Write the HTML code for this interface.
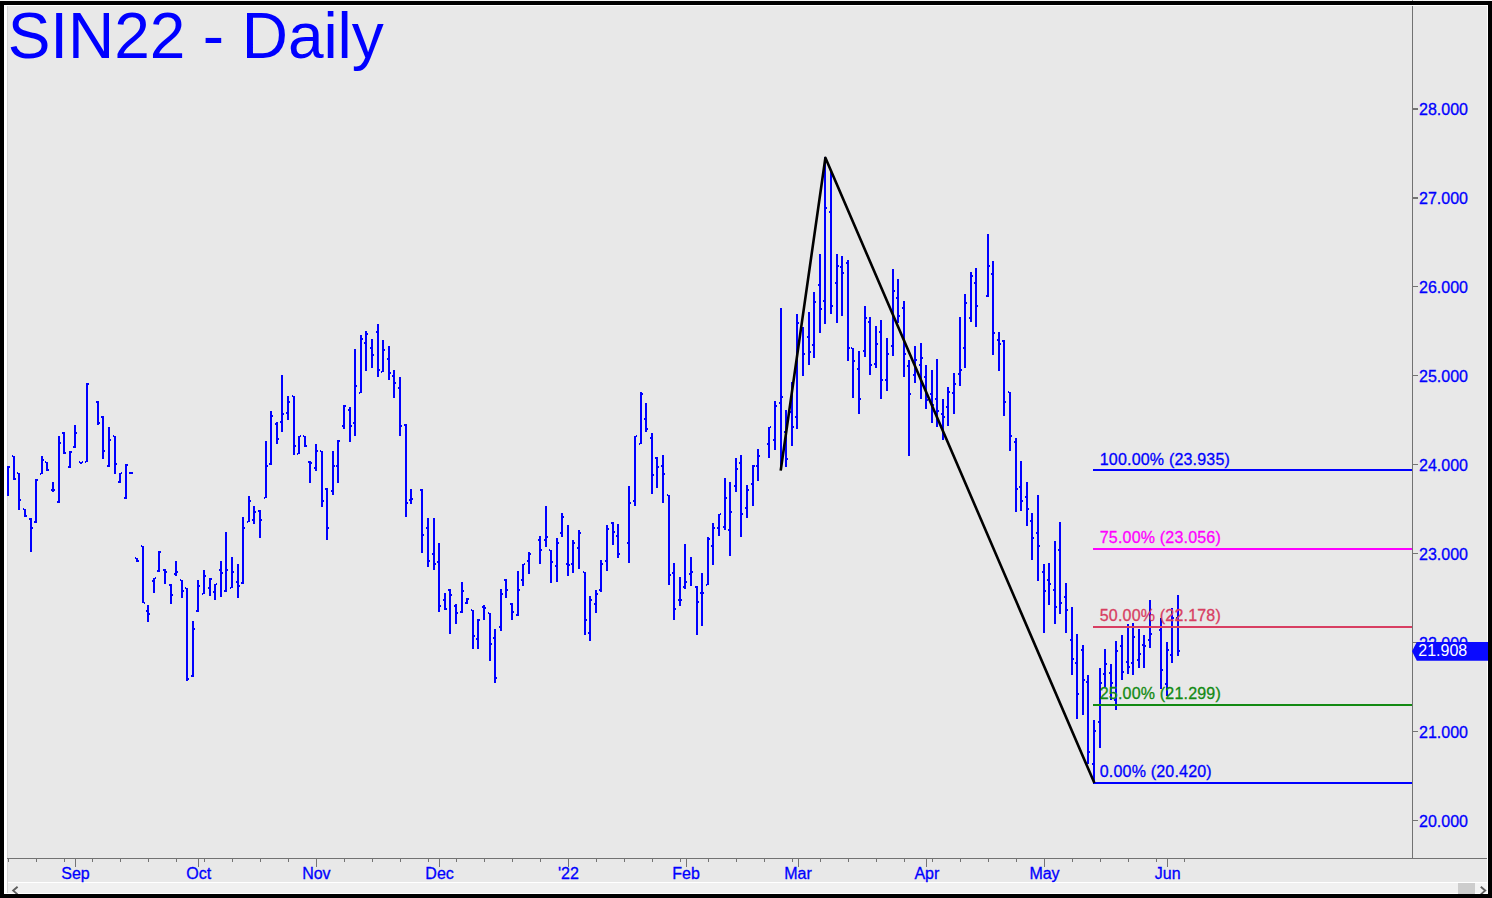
<!DOCTYPE html><html><head><meta charset="utf-8"><style>html,body{margin:0;padding:0;background:#fff;}svg{display:block}text{font-family:"Liberation Sans",sans-serif}</style></head><body>
<svg width="1492" height="898" viewBox="0 0 1492 898" shape-rendering="crispEdges">
<rect x="0" y="0" width="1492" height="898" fill="#000"/>
<rect x="0" y="0" width="1492" height="1" fill="#f4f4f4"/>
<rect x="4" y="5" width="1484" height="889" fill="#ffffff"/>
<rect x="7" y="6" width="1480" height="876" fill="#e8e8e8"/>
<rect x="1412" y="0" width="1" height="1" fill="#8a8a8a"/>
<rect x="7" y="882" width="1480" height="1" fill="#ffffff"/>
<rect x="7" y="883" width="1480" height="10" fill="#f0f0f0"/>
<rect x="1475" y="883" width="12" height="10" fill="#f3f3f3"/>
<rect x="1458" y="883" width="17" height="11" fill="#cdcdcd"/>
<path d="M17.6 886.8 L13.2 890.6 L17.6 894.4" stroke="#5e5e5e" stroke-width="1.9" fill="none" shape-rendering="geometricPrecision"/>
<path d="M1480.8 886.8 L1485.2 890.6 L1480.8 894.4" stroke="#5e5e5e" stroke-width="1.9" fill="none" shape-rendering="geometricPrecision"/>
<rect x="0" y="894" width="1492" height="4" fill="#000"/>
<rect x="7" y="6" width="1" height="887" fill="#d5d5d5"/>
<text x="7.7" y="58" font-size="64" fill="#0000ff" letter-spacing="-0.08">SIN22 - Daily</text>
<rect x="7" y="858" width="1480" height="1" fill="#727272"/>
<rect x="1412" y="6" width="1" height="852" fill="#727272"/>
<rect x="8" y="858" width="1" height="4" fill="#747474"/>
<rect x="36" y="858" width="1" height="4" fill="#747474"/>
<rect x="64" y="858" width="1" height="4" fill="#747474"/>
<rect x="75" y="858" width="1" height="9" fill="#747474"/>
<text x="75.50" y="879" font-size="16" fill="#0000ff" stroke="#0000ff" stroke-width="0.3" text-anchor="middle">Sep</text>
<rect x="92" y="858" width="1" height="4" fill="#747474"/>
<rect x="120" y="858" width="1" height="4" fill="#747474"/>
<rect x="148" y="858" width="1" height="4" fill="#747474"/>
<rect x="176" y="858" width="1" height="4" fill="#747474"/>
<rect x="198" y="858" width="1" height="9" fill="#747474"/>
<text x="198.73" y="879" font-size="16" fill="#0000ff" stroke="#0000ff" stroke-width="0.3" text-anchor="middle">Oct</text>
<rect x="204" y="858" width="1" height="4" fill="#747474"/>
<rect x="232" y="858" width="1" height="4" fill="#747474"/>
<rect x="260" y="858" width="1" height="4" fill="#747474"/>
<rect x="288" y="858" width="1" height="4" fill="#747474"/>
<rect x="316" y="858" width="1" height="9" fill="#747474"/>
<text x="316.36" y="879" font-size="16" fill="#0000ff" stroke="#0000ff" stroke-width="0.3" text-anchor="middle">Nov</text>
<rect x="344" y="858" width="1" height="4" fill="#747474"/>
<rect x="372" y="858" width="1" height="4" fill="#747474"/>
<rect x="400" y="858" width="1" height="4" fill="#747474"/>
<rect x="428" y="858" width="1" height="4" fill="#747474"/>
<rect x="439" y="858" width="1" height="9" fill="#747474"/>
<text x="439.58" y="879" font-size="16" fill="#0000ff" stroke="#0000ff" stroke-width="0.3" text-anchor="middle">Dec</text>
<rect x="456" y="858" width="1" height="4" fill="#747474"/>
<rect x="484" y="858" width="1" height="4" fill="#747474"/>
<rect x="512" y="858" width="1" height="4" fill="#747474"/>
<rect x="540" y="858" width="1" height="4" fill="#747474"/>
<rect x="568" y="858" width="1" height="9" fill="#747474"/>
<text x="568.41" y="879" font-size="16" fill="#0000ff" stroke="#0000ff" stroke-width="0.3" text-anchor="middle">'22</text>
<rect x="596" y="858" width="1" height="4" fill="#747474"/>
<rect x="624" y="858" width="1" height="4" fill="#747474"/>
<rect x="652" y="858" width="1" height="4" fill="#747474"/>
<rect x="680" y="858" width="1" height="4" fill="#747474"/>
<rect x="686" y="858" width="1" height="9" fill="#747474"/>
<text x="686.04" y="879" font-size="16" fill="#0000ff" stroke="#0000ff" stroke-width="0.3" text-anchor="middle">Feb</text>
<rect x="708" y="858" width="1" height="4" fill="#747474"/>
<rect x="736" y="858" width="1" height="4" fill="#747474"/>
<rect x="764" y="858" width="1" height="4" fill="#747474"/>
<rect x="792" y="858" width="1" height="4" fill="#747474"/>
<rect x="798" y="858" width="1" height="9" fill="#747474"/>
<text x="798.06" y="879" font-size="16" fill="#0000ff" stroke="#0000ff" stroke-width="0.3" text-anchor="middle">Mar</text>
<rect x="820" y="858" width="1" height="4" fill="#747474"/>
<rect x="848" y="858" width="1" height="4" fill="#747474"/>
<rect x="876" y="858" width="1" height="4" fill="#747474"/>
<rect x="904" y="858" width="1" height="4" fill="#747474"/>
<rect x="926" y="858" width="1" height="9" fill="#747474"/>
<text x="926.89" y="879" font-size="16" fill="#0000ff" stroke="#0000ff" stroke-width="0.3" text-anchor="middle">Apr</text>
<rect x="932" y="858" width="1" height="4" fill="#747474"/>
<rect x="960" y="858" width="1" height="4" fill="#747474"/>
<rect x="988" y="858" width="1" height="4" fill="#747474"/>
<rect x="1016" y="858" width="1" height="4" fill="#747474"/>
<rect x="1044" y="858" width="1" height="9" fill="#747474"/>
<text x="1044.51" y="879" font-size="16" fill="#0000ff" stroke="#0000ff" stroke-width="0.3" text-anchor="middle">May</text>
<rect x="1072" y="858" width="1" height="4" fill="#747474"/>
<rect x="1100" y="858" width="1" height="4" fill="#747474"/>
<rect x="1128" y="858" width="1" height="4" fill="#747474"/>
<rect x="1156" y="858" width="1" height="4" fill="#747474"/>
<rect x="1167" y="858" width="1" height="9" fill="#747474"/>
<text x="1167.74" y="879" font-size="16" fill="#0000ff" stroke="#0000ff" stroke-width="0.3" text-anchor="middle">Jun</text>
<rect x="1184" y="858" width="1" height="4" fill="#747474"/>
<rect x="1412" y="819.72" width="5.5" height="1.4" fill="#747474"/>
<text x="1419" y="826.82" font-size="16" fill="#0000ff" stroke="#0000ff" stroke-width="0.3">20.000</text>
<rect x="1412" y="730.78" width="5.5" height="1.4" fill="#747474"/>
<text x="1419" y="737.88" font-size="16" fill="#0000ff" stroke="#0000ff" stroke-width="0.3">21.000</text>
<rect x="1412" y="641.84" width="5.5" height="1.4" fill="#747474"/>
<text x="1419" y="648.94" font-size="16" fill="#0000ff" stroke="#0000ff" stroke-width="0.3">22.000</text>
<rect x="1412" y="552.90" width="5.5" height="1.4" fill="#747474"/>
<text x="1419" y="560.00" font-size="16" fill="#0000ff" stroke="#0000ff" stroke-width="0.3">23.000</text>
<rect x="1412" y="463.96" width="5.5" height="1.4" fill="#747474"/>
<text x="1419" y="471.06" font-size="16" fill="#0000ff" stroke="#0000ff" stroke-width="0.3">24.000</text>
<rect x="1412" y="375.02" width="5.5" height="1.4" fill="#747474"/>
<text x="1419" y="382.12" font-size="16" fill="#0000ff" stroke="#0000ff" stroke-width="0.3">25.000</text>
<rect x="1412" y="286.08" width="5.5" height="1.4" fill="#747474"/>
<text x="1419" y="293.18" font-size="16" fill="#0000ff" stroke="#0000ff" stroke-width="0.3">26.000</text>
<rect x="1412" y="197.14" width="5.5" height="1.4" fill="#747474"/>
<text x="1419" y="204.24" font-size="16" fill="#0000ff" stroke="#0000ff" stroke-width="0.3">27.000</text>
<rect x="1412" y="108.20" width="5.5" height="1.4" fill="#747474"/>
<text x="1419" y="115.30" font-size="16" fill="#0000ff" stroke="#0000ff" stroke-width="0.3">28.000</text>
<path d="M7 466h2v30h-2zM13 456h2v24h-2zM18 473h2v37h-2zM24 509h2v8h-2zM30 518h2v34h-2zM35 479h2v44h-2zM41 456h2v18h-2zM46 462h2v9h-2zM52 482h2v10h-2zM58 436h2v67h-2zM63 432h2v22h-2zM69 451h2v17h-2zM74 425h2v23h-2zM80 462h2v2h-2zM86 383h2v79h-2zM97 401h2v24h-2zM102 416h2v43h-2zM108 427h2v40h-2zM114 436h2v38h-2zM119 473h2v10h-2zM125 464h2v35h-2zM130 472h2v2h-2zM136 558h2v4h-2zM142 546h2v57h-2zM147 605h2v17h-2zM153 578h2v15h-2zM158 551h2v21h-2zM164 569h2v15h-2zM170 584h2v20h-2zM175 561h2v15h-2zM181 580h2v18h-2zM186 588h2v93h-2zM192 621h2v56h-2zM197 580h2v32h-2zM203 570h2v24h-2zM209 578h2v18h-2zM214 584h2v16h-2zM220 561h2v36h-2zM225 532h2v60h-2zM231 557h2v31h-2zM237 564h2v34h-2zM242 517h2v67h-2zM248 496h2v26h-2zM253 506h2v18h-2zM259 510h2v28h-2zM265 441h2v57h-2zM270 411h2v54h-2zM276 422h2v22h-2zM281 375h2v57h-2zM287 396h2v24h-2zM293 396h2v59h-2zM298 436h2v18h-2zM304 436h2v11h-2zM309 461h2v22h-2zM315 444h2v27h-2zM321 451h2v56h-2zM326 488h2v52h-2zM332 451h2v44h-2zM337 440h2v43h-2zM343 405h2v24h-2zM349 407h2v35h-2zM354 349h2v87h-2zM360 335h2v58h-2zM365 331h2v40h-2zM371 339h2v29h-2zM377 324h2v53h-2zM382 340h2v32h-2zM388 346h2v34h-2zM393 370h2v28h-2zM399 377h2v59h-2zM405 424h2v93h-2zM410 489h2v15h-2zM421 489h2v64h-2zM427 518h2v49h-2zM433 518h2v52h-2zM438 543h2v69h-2zM444 593h2v17h-2zM449 589h2v45h-2zM455 604h2v20h-2zM461 582h2v31h-2zM466 598h2v6h-2zM472 610h2v39h-2zM477 619h2v30h-2zM483 605h2v15h-2zM489 613h2v48h-2zM494 629h2v54h-2zM500 589h2v42h-2zM505 579h2v19h-2zM511 603h2v17h-2zM517 571h2v45h-2zM522 564h2v22h-2zM528 552h2v22h-2zM539 536h2v28h-2zM545 506h2v41h-2zM550 550h2v33h-2zM556 538h2v44h-2zM561 513h2v24h-2zM567 525h2v51h-2zM572 540h2v33h-2zM578 530h2v39h-2zM584 572h2v63h-2zM589 596h2v45h-2zM595 590h2v23h-2zM600 560h2v32h-2zM606 525h2v46h-2zM612 522h2v23h-2zM617 524h2v34h-2zM628 486h2v77h-2zM634 436h2v70h-2zM640 392h2v52h-2zM645 403h2v29h-2zM651 433h2v61h-2zM656 457h2v31h-2zM662 455h2v48h-2zM668 495h2v90h-2zM673 563h2v57h-2zM679 577h2v29h-2zM684 544h2v45h-2zM690 557h2v29h-2zM696 586h2v49h-2zM701 573h2v53h-2zM707 537h2v48h-2zM712 523h2v42h-2zM718 514h2v22h-2zM724 478h2v52h-2zM729 482h2v74h-2zM735 458h2v34h-2zM740 455h2v82h-2zM746 485h2v33h-2zM752 465h2v41h-2zM757 449h2v32h-2zM768 427h2v31h-2zM774 401h2v49h-2zM780 308h2v162h-2zM785 410h2v57h-2zM791 382h2v64h-2zM796 314h2v115h-2zM802 327h2v49h-2zM808 312h2v53h-2zM813 292h2v66h-2zM819 254h2v79h-2zM824 157h2v167h-2zM830 172h2v142h-2zM836 254h2v69h-2zM841 256h2v60h-2zM847 260h2v101h-2zM852 348h2v50h-2zM858 351h2v63h-2zM864 306h2v51h-2zM869 317h2v58h-2zM875 326h2v42h-2zM880 320h2v79h-2zM886 338h2v53h-2zM892 269h2v87h-2zM897 279h2v44h-2zM903 301h2v76h-2zM908 360h2v96h-2zM914 346h2v37h-2zM920 343h2v56h-2zM925 365h2v44h-2zM931 370h2v53h-2zM936 359h2v68h-2zM942 399h2v41h-2zM947 387h2v39h-2zM953 373h2v41h-2zM959 317h2v69h-2zM964 294h2v74h-2zM970 272h2v50h-2zM975 268h2v59h-2zM987 234h2v63h-2zM992 261h2v94h-2zM998 332h2v39h-2zM1003 340h2v76h-2zM1009 392h2v59h-2zM1015 438h2v74h-2zM1020 461h2v50h-2zM1026 482h2v44h-2zM1031 513h2v47h-2zM1037 495h2v86h-2zM1043 564h2v69h-2zM1048 563h2v42h-2zM1054 541h2v83h-2zM1059 522h2v92h-2zM1065 583h2v50h-2zM1071 607h2v68h-2zM1076 634h2v85h-2zM1082 645h2v70h-2zM1087 675h2v89h-2zM1093 720h2v63h-2zM1099 668h2v80h-2zM1104 649h2v38h-2zM1110 664h2v36h-2zM1115 641h2v69h-2zM1121 635h2v45h-2zM1127 624h2v50h-2zM1132 623h2v52h-2zM1138 629h2v39h-2zM1143 635h2v33h-2zM1149 600h2v48h-2zM1160 618h2v71h-2zM1166 642h2v54h-2zM1171 608h2v55h-2zM1177 595h2v61h-2zM9 466h1v2h-1zM12 455h1v2h-1zM15 478h1v2h-1zM17 472h1v2h-1zM20 499h1v2h-1zM23 508h1v2h-1zM26 515h1v2h-1zM29 518h1v2h-1zM32 527h1v2h-1zM34 521h1v2h-1zM37 479h1v2h-1zM40 473h1v2h-1zM43 459h1v2h-1zM45 461h1v2h-1zM48 469h1v2h-1zM51 489h1v2h-1zM54 489h1v2h-1zM57 501h1v2h-1zM60 442h1v2h-1zM62 432h1v2h-1zM65 452h1v2h-1zM68 466h1v2h-1zM71 451h1v2h-1zM73 446h1v2h-1zM76 432h1v2h-1zM79 461h1v2h-1zM82 461h1v2h-1zM85 461h1v2h-1zM88 383h1v2h-1zM96 401h1v2h-1zM99 422h1v2h-1zM101 416h1v2h-1zM104 450h1v2h-1zM107 465h1v2h-1zM110 439h1v2h-1zM113 435h1v2h-1zM116 463h1v2h-1zM118 481h1v2h-1zM121 472h1v2h-1zM124 497h1v2h-1zM127 464h1v2h-1zM129 472h1v2h-1zM132 472h1v2h-1zM135 557h1v2h-1zM138 560h1v2h-1zM141 545h1v2h-1zM144 602h1v2h-1zM146 610h1v2h-1zM149 613h1v2h-1zM152 580h1v2h-1zM155 577h1v2h-1zM157 570h1v2h-1zM160 551h1v2h-1zM163 569h1v2h-1zM166 571h1v2h-1zM169 584h1v2h-1zM172 594h1v2h-1zM174 573h1v2h-1zM177 571h1v2h-1zM180 579h1v2h-1zM183 590h1v2h-1zM185 587h1v2h-1zM188 678h1v2h-1zM191 675h1v2h-1zM194 628h1v2h-1zM196 610h1v2h-1zM199 585h1v2h-1zM202 593h1v2h-1zM205 575h1v2h-1zM208 587h1v2h-1zM211 578h1v2h-1zM213 591h1v2h-1zM216 583h1v2h-1zM219 569h1v2h-1zM222 572h1v2h-1zM224 590h1v2h-1zM227 569h1v2h-1zM230 587h1v2h-1zM233 571h1v2h-1zM236 581h1v2h-1zM239 585h1v2h-1zM241 582h1v2h-1zM244 527h1v2h-1zM247 521h1v2h-1zM250 500h1v2h-1zM252 519h1v2h-1zM255 511h1v2h-1zM258 510h1v2h-1zM261 519h1v2h-1zM264 497h1v2h-1zM267 465h1v2h-1zM269 463h1v2h-1zM272 415h1v2h-1zM275 423h1v2h-1zM278 438h1v2h-1zM280 421h1v2h-1zM283 413h1v2h-1zM286 412h1v2h-1zM289 401h1v2h-1zM292 395h1v2h-1zM295 445h1v2h-1zM297 453h1v2h-1zM300 435h1v2h-1zM303 435h1v2h-1zM306 445h1v2h-1zM308 461h1v2h-1zM311 462h1v2h-1zM314 467h1v2h-1zM317 450h1v2h-1zM320 450h1v2h-1zM323 500h1v2h-1zM325 488h1v2h-1zM328 527h1v2h-1zM331 490h1v2h-1zM334 465h1v2h-1zM336 465h1v2h-1zM339 440h1v2h-1zM342 425h1v2h-1zM345 405h1v2h-1zM348 409h1v2h-1zM351 425h1v2h-1zM353 422h1v2h-1zM356 385h1v2h-1zM359 392h1v2h-1zM362 338h1v2h-1zM364 342h1v2h-1zM367 333h1v2h-1zM370 347h1v2h-1zM373 354h1v2h-1zM376 331h1v2h-1zM379 369h1v2h-1zM381 371h1v2h-1zM384 349h1v2h-1zM387 358h1v2h-1zM390 372h1v2h-1zM392 375h1v2h-1zM395 382h1v2h-1zM398 387h1v2h-1zM401 425h1v2h-1zM404 424h1v2h-1zM407 502h1v2h-1zM409 499h1v2h-1zM412 498h1v2h-1zM420 489h1v2h-1zM423 534h1v2h-1zM426 527h1v2h-1zM429 560h1v2h-1zM432 553h1v2h-1zM435 563h1v2h-1zM437 561h1v2h-1zM440 605h1v2h-1zM443 599h1v2h-1zM446 608h1v2h-1zM448 589h1v2h-1zM451 594h1v2h-1zM454 605h1v2h-1zM457 612h1v2h-1zM460 611h1v2h-1zM463 590h1v2h-1zM465 602h1v2h-1zM468 598h1v2h-1zM471 609h1v2h-1zM474 635h1v2h-1zM476 638h1v2h-1zM479 619h1v2h-1zM482 606h1v2h-1zM485 607h1v2h-1zM488 612h1v2h-1zM491 643h1v2h-1zM493 637h1v2h-1zM496 677h1v2h-1zM499 626h1v2h-1zM502 593h1v2h-1zM504 579h1v2h-1zM507 589h1v2h-1zM510 603h1v2h-1zM513 611h1v2h-1zM516 614h1v2h-1zM519 589h1v2h-1zM521 579h1v2h-1zM524 563h1v2h-1zM527 560h1v2h-1zM530 553h1v2h-1zM538 539h1v2h-1zM541 549h1v2h-1zM544 539h1v2h-1zM547 536h1v2h-1zM549 549h1v2h-1zM552 561h1v2h-1zM555 565h1v2h-1zM558 542h1v2h-1zM560 532h1v2h-1zM563 516h1v2h-1zM566 563h1v2h-1zM569 564h1v2h-1zM571 563h1v2h-1zM574 542h1v2h-1zM577 547h1v2h-1zM580 532h1v2h-1zM583 571h1v2h-1zM586 619h1v2h-1zM588 632h1v2h-1zM591 599h1v2h-1zM594 603h1v2h-1zM597 593h1v2h-1zM599 589h1v2h-1zM602 563h1v2h-1zM605 560h1v2h-1zM608 528h1v2h-1zM611 522h1v2h-1zM614 531h1v2h-1zM616 535h1v2h-1zM619 553h1v2h-1zM627 542h1v2h-1zM630 502h1v2h-1zM633 500h1v2h-1zM636 435h1v2h-1zM639 443h1v2h-1zM642 393h1v2h-1zM644 418h1v2h-1zM647 428h1v2h-1zM650 437h1v2h-1zM653 474h1v2h-1zM655 457h1v2h-1zM658 466h1v2h-1zM661 465h1v2h-1zM664 473h1v2h-1zM667 494h1v2h-1zM670 574h1v2h-1zM672 572h1v2h-1zM675 608h1v2h-1zM678 599h1v2h-1zM681 599h1v2h-1zM683 586h1v2h-1zM686 581h1v2h-1zM689 573h1v2h-1zM692 571h1v2h-1zM695 586h1v2h-1zM698 601h1v2h-1zM700 592h1v2h-1zM703 592h1v2h-1zM706 584h1v2h-1zM709 538h1v2h-1zM711 545h1v2h-1zM714 527h1v2h-1zM717 527h1v2h-1zM720 513h1v2h-1zM723 526h1v2h-1zM726 497h1v2h-1zM728 529h1v2h-1zM731 511h1v2h-1zM734 485h1v2h-1zM737 468h1v2h-1zM739 462h1v2h-1zM742 513h1v2h-1zM745 507h1v2h-1zM748 489h1v2h-1zM751 483h1v2h-1zM754 465h1v2h-1zM756 465h1v2h-1zM759 455h1v2h-1zM767 443h1v2h-1zM770 426h1v2h-1zM773 439h1v2h-1zM776 405h1v2h-1zM779 402h1v2h-1zM782 396h1v2h-1zM784 431h1v2h-1zM787 458h1v2h-1zM790 411h1v2h-1zM793 426h1v2h-1zM795 416h1v2h-1zM798 322h1v2h-1zM801 329h1v2h-1zM804 353h1v2h-1zM807 336h1v2h-1zM810 351h1v2h-1zM812 344h1v2h-1zM815 301h1v2h-1zM818 284h1v2h-1zM821 308h1v2h-1zM823 300h1v2h-1zM826 207h1v2h-1zM829 211h1v2h-1zM832 305h1v2h-1zM835 282h1v2h-1zM838 265h1v2h-1zM840 266h1v2h-1zM843 272h1v2h-1zM846 262h1v2h-1zM849 347h1v2h-1zM851 347h1v2h-1zM854 360h1v2h-1zM857 368h1v2h-1zM860 398h1v2h-1zM863 350h1v2h-1zM866 317h1v2h-1zM868 321h1v2h-1zM871 364h1v2h-1zM874 363h1v2h-1zM877 343h1v2h-1zM879 331h1v2h-1zM882 379h1v2h-1zM885 379h1v2h-1zM888 353h1v2h-1zM891 345h1v2h-1zM894 290h1v2h-1zM896 297h1v2h-1zM899 315h1v2h-1zM902 307h1v2h-1zM905 353h1v2h-1zM907 365h1v2h-1zM910 393h1v2h-1zM913 374h1v2h-1zM916 359h1v2h-1zM919 364h1v2h-1zM922 357h1v2h-1zM924 376h1v2h-1zM927 399h1v2h-1zM930 393h1v2h-1zM933 404h1v2h-1zM935 398h1v2h-1zM938 410h1v2h-1zM941 413h1v2h-1zM944 416h1v2h-1zM946 406h1v2h-1zM949 391h1v2h-1zM952 392h1v2h-1zM955 383h1v2h-1zM958 373h1v2h-1zM961 369h1v2h-1zM963 347h1v2h-1zM966 302h1v2h-1zM969 317h1v2h-1zM972 275h1v2h-1zM974 282h1v2h-1zM977 305h1v2h-1zM986 295h1v2h-1zM989 265h1v2h-1zM991 273h1v2h-1zM994 332h1v2h-1zM997 339h1v2h-1zM1000 343h1v2h-1zM1002 340h1v2h-1zM1005 401h1v2h-1zM1008 391h1v2h-1zM1011 435h1v2h-1zM1014 441h1v2h-1zM1017 488h1v2h-1zM1019 486h1v2h-1zM1022 500h1v2h-1zM1025 496h1v2h-1zM1028 508h1v2h-1zM1030 520h1v2h-1zM1033 537h1v2h-1zM1036 532h1v2h-1zM1039 545h1v2h-1zM1042 571h1v2h-1zM1045 590h1v2h-1zM1047 579h1v2h-1zM1050 583h1v2h-1zM1053 589h1v2h-1zM1056 606h1v2h-1zM1058 549h1v2h-1zM1061 602h1v2h-1zM1064 596h1v2h-1zM1067 609h1v2h-1zM1070 639h1v2h-1zM1073 658h1v2h-1zM1075 662h1v2h-1zM1078 693h1v2h-1zM1081 649h1v2h-1zM1084 679h1v2h-1zM1086 681h1v2h-1zM1089 751h1v2h-1zM1092 763h1v2h-1zM1095 730h1v2h-1zM1098 721h1v2h-1zM1101 682h1v2h-1zM1103 673h1v2h-1zM1106 663h1v2h-1zM1109 672h1v2h-1zM1112 682h1v2h-1zM1114 699h1v2h-1zM1117 650h1v2h-1zM1120 645h1v2h-1zM1123 671h1v2h-1zM1126 661h1v2h-1zM1129 666h1v2h-1zM1131 662h1v2h-1zM1134 636h1v2h-1zM1137 659h1v2h-1zM1140 653h1v2h-1zM1142 644h1v2h-1zM1145 645h1v2h-1zM1148 639h1v2h-1zM1151 633h1v2h-1zM1159 629h1v2h-1zM1162 669h1v2h-1zM1165 683h1v2h-1zM1168 649h1v2h-1zM1170 654h1v2h-1zM1173 617h1v2h-1zM1176 617h1v2h-1zM1179 650h1v2h-1z" fill="#0000ff"/>
<rect x="1093" y="469" width="319" height="2" fill="#0000ff"/>
<text x="1099.7" y="464.74" font-size="16" fill="#0000ff" stroke="#0000ff" stroke-width="0.3" letter-spacing="0.2">100.00% (23.935)</text>
<rect x="1093" y="548" width="319" height="2" fill="#ff00ff"/>
<text x="1099.7" y="542.92" font-size="16" fill="#ff00ff" stroke="#ff00ff" stroke-width="0.3" letter-spacing="0.2">75.00% (23.056)</text>
<rect x="1093" y="626" width="319" height="2" fill="#d83e62"/>
<text x="1099.7" y="621.01" font-size="16" fill="#d83e62" stroke="#d83e62" stroke-width="0.3" letter-spacing="0.2">50.00% (22.178)</text>
<rect x="1093" y="704" width="319" height="2" fill="#138a13"/>
<text x="1099.7" y="699.19" font-size="16" fill="#138a13" stroke="#138a13" stroke-width="0.3" letter-spacing="0.2">25.00% (21.299)</text>
<rect x="1093" y="782" width="319" height="2" fill="#0000ff"/>
<text x="1099.7" y="777.37" font-size="16" fill="#0000ff" stroke="#0000ff" stroke-width="0.3" letter-spacing="0.2">0.00% (20.420)</text>
<path d="M780.7 470.6 L825.4 157.8 L1094.4 783.1" stroke="#000" stroke-width="2.6" fill="none" stroke-linejoin="round" shape-rendering="geometricPrecision"/>
<path d="M1412 651.3 L1416.8 642 H1488 V660.7 H1416.8 Z" fill="#0a0aff" shape-rendering="geometricPrecision"/>
<text x="1418.3" y="656.4" font-size="16" fill="#ffffff">21.908</text>
</svg></body></html>
